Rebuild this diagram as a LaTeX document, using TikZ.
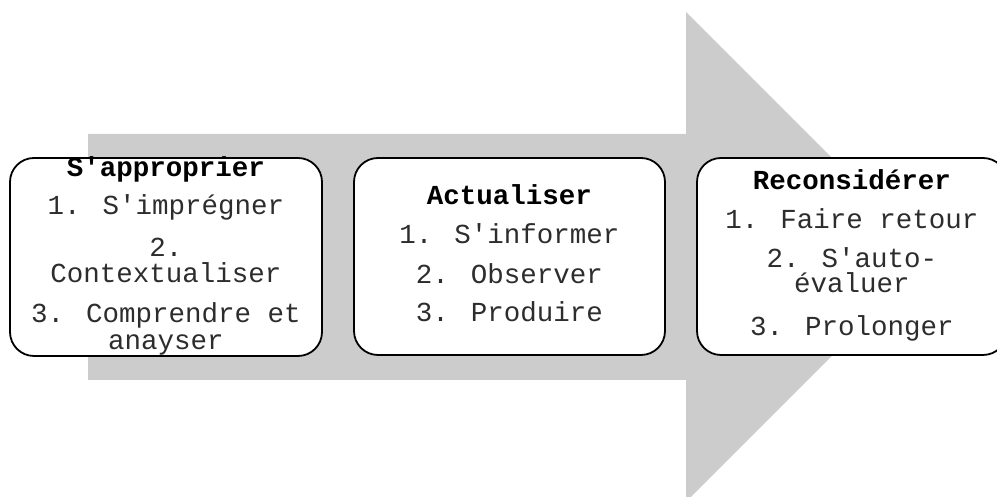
\documentclass[tikz,border=0pt]{standalone}
\usepackage{fontspec}
\newfontfamily\monofam{Liberation Mono}
\definecolor{arrowgray}{RGB}{204,204,204}
\definecolor{itemgray}{RGB}{45,45,45}
\begin{document}
\begin{tikzpicture}[x=1pt,y=1pt,
  stagebox/.style={draw=black, line width=1.8pt, rounded corners=24pt, fill=white, inner sep=0pt},
  ttl/.style={font={\monofam\bfseries\fontsize{27.5}{30}\selectfont}, anchor=base, inner sep=0pt, text=black},
  itm/.style={font={\monofam\fontsize{27.5}{30}\selectfont}, anchor=base, inner sep=0pt, text=itemgray}]
\useasboundingbox (0,0) rectangle (997,497);
\clip (0,0) rectangle (997,497);
% big arrow
\fill[arrowgray] (88,{497-134}) -- (686,{497-134}) -- (686,{497-12}) -- (931,{497-257})
  -- (686,{497-502}) -- (686,{497-380}) -- (88,{497-380}) -- cycle;
% boxes
\node[stagebox, minimum width=312pt, minimum height=198pt] (b1) at (166,{497-257}) {};
\node[stagebox, minimum width=311pt, minimum height=197pt] (b2) at (509.5,{497-256.5}) {};
\node[stagebox, minimum width=310pt, minimum height=197pt] (b3) at (852,{497-256.5}) {};
% box 1 texts
\node[ttl] (t1) at (166,{497-177}) {S'approprier};
\node[itm] (t1a) at (166,{497-215}) {1. S'imprégner};
\node[itm] (t1b) at (166,{497-257}) {2.};
\node[itm] (t1c) at (166,{497-283}) {Contextualiser};
\node[itm] (t1d) at (166,{497-323}) {3. Comprendre et};
\node[itm] (t1e) at (166,{497-350}) {anayser};
% box 2 texts
\node[ttl] (t2) at (509.5,{497-205}) {Actualiser};
\node[itm] (t2a) at (509.5,{497-244}) {1. S'informer};
\node[itm] (t2b) at (509.5,{497-284}) {2. Observer};
\node[itm] (t2c) at (509.5,{497-322}) {3. Produire};
% box 3 texts
\node[ttl] (t3) at (852,{497-190}) {Reconsidérer};
\node[itm] (t3a) at (852,{497-229}) {1. Faire retour};
\node[itm] (t3b) at (852,{497-268}) {2. S'auto-};
\node[itm] (t3c) at (852,{497-293}) {évaluer};
\node[itm] (t3d) at (852,{497-336}) {3. Prolonger};
\end{tikzpicture}
\end{document}
